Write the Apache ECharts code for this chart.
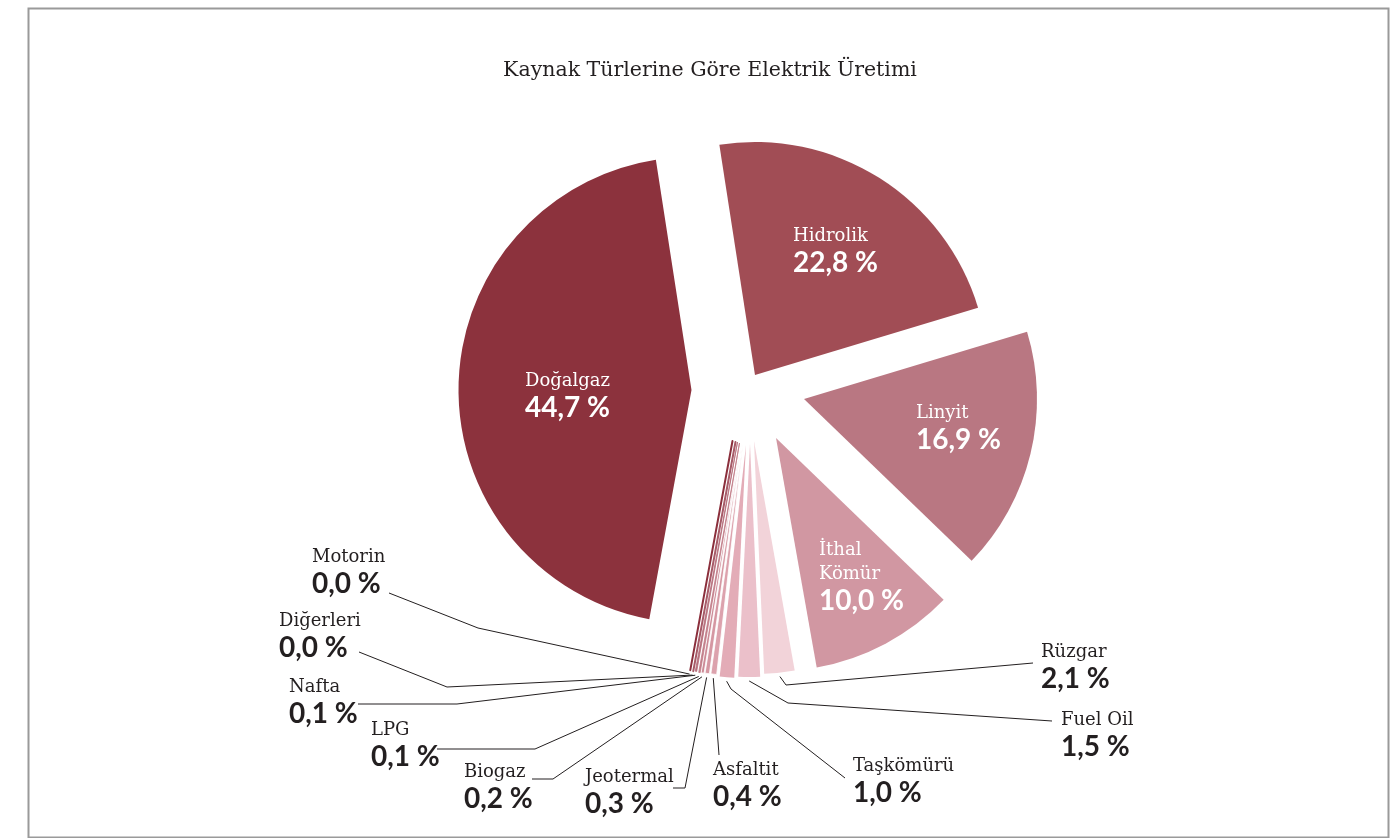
<!DOCTYPE html>
<html>
<head>
<meta charset="utf-8">
<script src="https://cdn.jsdelivr.net/npm/echarts@6/dist/echarts.min.js"></script>
<style>
html,body{margin:0;padding:0;background:#fff;}
#chart{width:1392px;height:838px;}
</style>
</head>
<body>
<div id="chart"></div>
<script>
// ---- data ----
const chartTitle = 'Kaynak Türlerine Göre Elektrik Üretimi';
const categories = ['Hidrolik','Linyit','İthal Kömür','Rüzgar','Fuel Oil','Taşkömürü','Asfaltit','Jeotermal','Biogaz','LPG','Nafta','Diğerleri','Motorin','Doğalgaz'];
const shares = [22.8, 16.9, 10.0, 2.1, 1.5, 1.0, 0.4, 0.3, 0.2, 0.1, 0.1, 0.0, 0.0, 44.7];

// ---- styling / layout ----
const colors = ['#A14D55','#B97782','#D197A2','#F2D3D9','#EBC0CA','#E3ACB7','#DCA2AD','#D597A2','#CC8A96','#C27D89','#B66E7B','#A65A67','#8B2F3C','#8C323D'];
const inside = [true,true,true,false,false,false,false,false,false,false,false,false,false,true];
// apex (pie centre) of every exploded slice, px
const centers = [[755,375],[804,399],[776,438],[754,441],[750,444],[746,445],[743,443],[741.5,443],[740.5,443],[739.5,443],[737.5,442],[735.5,442],[732.5,441],[691.5,390]];
// top-left of each label block, px
const labelPos = [[793,224],[916,401],[819,538],[1041,640],[1061,708],[853,754],[713,758],[585,765],[464,760],[371,718],[289,675],[279,609],[312,545],[525,369]];
// label line bends (after the slice edge point)
const lineBends = [null,null,null,
  [[786,685],[1033,663]],
  [[788,703],[1052,721]],
  [[731,689],[845,778]],
  [[719,755]],
  [[685,788],[673,788]],
  [[553,779],[532,779]],
  [[535,749],[437,749]],
  [[457,704],[358,704]],
  [[447,687],[359,652]],
  [[478,628],[389,593]],
  null];

const nameFont = 'DejaVu Serif';
const numFont = 'Lato';
const ink = '#231F20';

function fmt(v){ return v.toFixed(1).replace('.', ',') + ' %'; }

function sliceStyle(i) {
  const v = shares[i];
  if (inside[i]) return {color: colors[i], borderWidth: 0};
  if (v < 0.05) return {color: colors[i], borderColor: colors[i], borderWidth: 2};
  if (v < 0.15) return {color: colors[i], borderColor: colors[i], borderWidth: 0.8};
  if (v < 0.5) return {color: colors[i], borderColor: '#fff', borderWidth: 0.8};
  return {color: colors[i], borderWidth: 0};
}

const series = categories.map((cat, k) => ({
  type: 'pie',
  name: cat,
  center: centers[k],
  radius: 233,
  startAngle: 98.8,
  clockwise: true,
  silent: true,
  animation: false,
  avoidLabelOverlap: false,
  z: 2,
  data: categories.map((c, i) => {
    const own = i === k;
    const v = shares[i];
    return {
      name: c,
      value: v,
      itemStyle: own ? sliceStyle(i) : {color: 'rgba(0,0,0,0)', borderWidth: 0},
      label: {
        show: own,
        position: inside[i] ? 'inside' : 'outside',
        formatter: () => '{n|' + (inside[i] ? c.replace(' ', '\n') : c) + '}\n{v|' + fmt(v) + '}',
        rich: {
          n: {fontFamily: nameFont, fontSize: 18, lineHeight: 24, color: inside[i] ? '#fff' : ink},
          v: {fontFamily: numFont, fontWeight: 'bold', fontSize: 28, lineHeight: 30, color: inside[i] ? '#fff' : ink}
        }
      },
      labelLine: {show: own && !inside[i], smooth: false, lineStyle: {color: ink, width: 1}}
    };
  }),
  labelLayout: (p) => {
    if (p.dataIndex !== k) return {};
    const L = labelPos[k];
    const out = {x: L[0], y: L[1], align: 'left', verticalAlign: 'top'};
    if (lineBends[k] && p.labelLinePoints) {
      const p0 = p.labelLinePoints[0];
      const c = centers[k];
      const dx = p0[0] - c[0], dy = p0[1] - c[1];
      const len = Math.hypot(dx, dy) || 1;
      const s = [p0[0] + dx / len * 4, p0[1] + dy / len * 4];
      out.labelLinePoints = [s].concat(lineBends[k]);
    }
    return out;
  }
}));

const chart = echarts.init(document.getElementById('chart'), null, {renderer: 'canvas'});
chart.setOption({
  backgroundColor: '#fff',
  animation: false,
  title: {
    text: chartTitle,
    left: 705, top: 55, textAlign: 'center',
    textStyle: {fontFamily: nameFont, fontWeight: 'normal', fontSize: 20.5, color: ink}
  },
  graphic: [{
    type: 'rect', left: 26, top: 6,
    shape: {width: 1360, height: 829},
    style: {fill: 'none', stroke: '#9a9a9a', lineWidth: 2},
    silent: true, z: 0
  }],
  series: series
});
</script>
</body>
</html>
